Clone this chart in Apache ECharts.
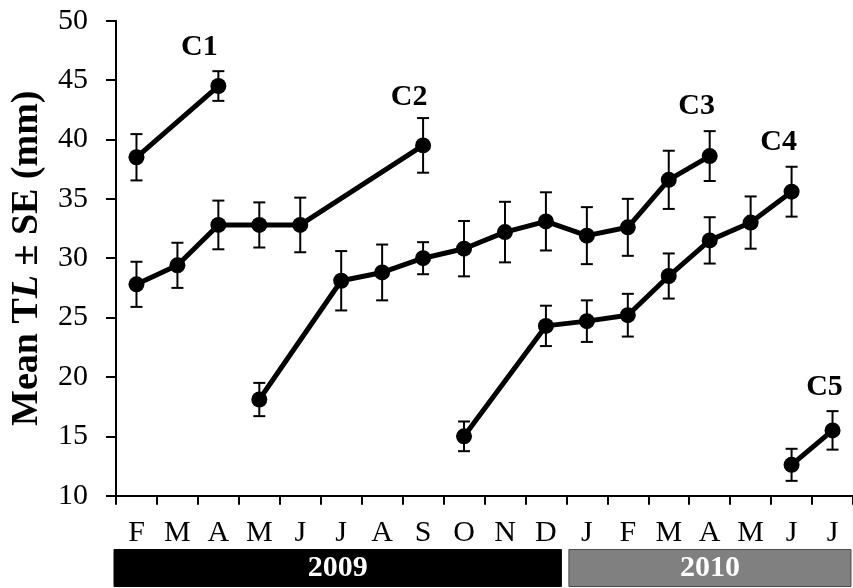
<!DOCTYPE html>
<html>
<head>
<meta charset="utf-8">
<script src="https://cdn.jsdelivr.net/npm/echarts@6/dist/echarts.min.js"></script>
<style>
  html, body { margin: 0; padding: 0; background: #fff; }
  #main { width: 853px; height: 588px; }
</style>
</head>
<body>
<div id="main"></div>
<script>
var categories = ['F','M','A','M','J','J','A','S','O','N','D','J','F','M','A','M','J','J'];
var yTicks = [10, 15, 20, 25, 30, 35, 40, 45, 50];

var c1Mean = [38.5, null, 44.5, null, null, null, null, null, null, null, null, null, null, null, null, null, null, null];
var c1SE   = [1.95, null, 1.25, null, null, null, null, null, null, null, null, null, null, null, null, null, null, null];

var c2Mean = [27.8, 29.4, 32.8, 32.8, 32.8, null, null, 39.5, null, null, null, null, null, null, null, null, null, null];
var c2SE   = [1.9, 1.9, 2.05, 1.9, 2.3, null, null, 2.3, null, null, null, null, null, null, null, null, null, null];

var c3Mean = [null, null, null, 18.1, null, 28.1, 28.8, 30.0, 30.8, 32.2, 33.1, 31.9, 32.6, 36.6, 38.6, null, null, null];
var c3SE   = [null, null, null, 1.4, null, 2.5, 2.35, 1.35, 2.33, 2.55, 2.45, 2.4, 2.4, 2.45, 2.1, null, null, null];

var c4Mean = [null, null, null, null, null, null, null, null, 15.0, null, 24.3, 24.7, 25.2, 28.5, 31.5, 33.0, 35.6, null];
var c4SE   = [null, null, null, null, null, null, null, null, 1.25, null, 1.7, 1.75, 1.8, 1.9, 1.95, 2.2, 2.1, null];

var c5Mean = [null, null, null, null, null, null, null, null, null, null, null, null, null, null, null, null, 12.6, 15.5];
var c5SE   = [null, null, null, null, null, null, null, null, null, null, null, null, null, null, null, null, 1.35, 1.62];

var cohortNames = ['C1', 'C2', 'C3', 'C4', 'C5'];
var years = ['2009', '2010'];
var yearStartIdx = [0, 11];
var yearEndIdx = [10, 17];

var FONT = 'Liberation Serif';
var means = [c1Mean, c2Mean, c3Mean, c4Mean, c5Mean];
var ses = [c1SE, c2SE, c3SE, c4SE, c5SE];
var labelOffsets = [[-19, -39], [-14, -48], [-13, -50], [-13, -49], [-8, -43]];

var series = [];
means.forEach(function (arr, k) {
  var last = -1;
  arr.forEach(function (v, i) { if (v !== null) last = i; });
  var ebData = [];
  arr.forEach(function (v, i) { if (v !== null) ebData.push([i, v, ses[k][i]]); });
  series.push({
    type: 'custom',
    name: cohortNames[k] + ' SE',
    data: ebData,
    encode: { x: 0, y: 1 },
    z: 2,
    renderItem: function (params, api) {
      var x = api.value(0), m = api.value(1), s = api.value(2);
      var top = api.coord([x, m + s]);
      var bot = api.coord([x, m - s]);
      var hw = 6;
      var st = { stroke: '#000', lineWidth: 2 };
      return {
        type: 'group',
        children: [
          { type: 'line', shape: { x1: top[0], y1: top[1], x2: bot[0], y2: bot[1] }, style: st },
          { type: 'line', shape: { x1: top[0] - hw, y1: top[1], x2: top[0] + hw, y2: top[1] }, style: st },
          { type: 'line', shape: { x1: bot[0] - hw, y1: bot[1], x2: bot[0] + hw, y2: bot[1] }, style: st }
        ]
      };
    }
  });
  series.push({
    type: 'line',
    name: cohortNames[k],
    data: arr,
    connectNulls: true,
    symbol: 'circle',
    symbolSize: 16,
    z: 3,
    lineStyle: { color: '#000', width: 5 },
    itemStyle: { color: '#000' },
    label: {
      show: true,
      position: 'inside',
      offset: labelOffsets[k],
      fontFamily: FONT,
      fontSize: 30,
      fontWeight: 'bold',
      color: '#000',
      formatter: function (p) { return p.dataIndex === last ? cohortNames[k] : ''; }
    }
  });
});

var chart = echarts.init(document.getElementById('main'), null, { renderer: 'canvas' });
chart.setOption({
  animation: false,
  backgroundColor: '#fff',
  grid: { left: 116, right: -7, top: 20.7, bottom: 92.3, containLabel: false },
  xAxis: {
    type: 'category',
    data: categories,
    boundaryGap: true,
    axisLine: { show: true, lineStyle: { color: '#000', width: 2 } },
    axisTick: { show: true, length: 9, lineStyle: { color: '#000', width: 2 } },
    axisLabel: { fontFamily: FONT, fontSize: 30, color: '#000', margin: 22, interval: 0 },
    splitLine: { show: false }
  },
  yAxis: {
    type: 'value',
    min: yTicks[0],
    max: yTicks[yTicks.length - 1],
    interval: yTicks[1] - yTicks[0],
    name: '{a|Mean T}{b|L}{a| \u00b1 SE (mm)}',
    nameLocation: 'middle',
    nameGap: 70,
    nameRotate: 90,
    nameTextStyle: {
      fontFamily: FONT, fontSize: 38, fontWeight: 'bold', color: '#000',
      rich: {
        a: { fontFamily: FONT, fontSize: 38, fontWeight: 'bold', color: '#000' },
        b: { fontFamily: FONT, fontSize: 38, fontWeight: 'bold', fontStyle: 'italic', color: '#000' }
      }
    },
    axisLine: { show: true, lineStyle: { color: '#000', width: 2 } },
    axisTick: { show: true, length: 10, lineStyle: { color: '#000', width: 2 } },
    axisLabel: { fontFamily: FONT, fontSize: 30, color: '#000', margin: 28 },
    splitLine: { show: false }
  },
  series: series
});

// Year bars below the month axis
var p0 = chart.convertToPixel({ xAxisIndex: 0 }, 0);
var p1 = chart.convertToPixel({ xAxisIndex: 0 }, 1);
var band = p1 - p0;
var barTop = 549.5, barH = 37;
var fills = ['#000', '#808080'];
var strokes = ['#000', '#4d4d4d'];
var padL = [-2, 2.5], padR = [-5, -2];
var gfx = [];
years.forEach(function (y, i) {
  var xs = chart.convertToPixel({ xAxisIndex: 0 }, yearStartIdx[i]) - band / 2 + padL[i];
  var xe = chart.convertToPixel({ xAxisIndex: 0 }, yearEndIdx[i]) + band / 2 + padR[i];
  gfx.push({
    type: 'rect',
    shape: { x: xs, y: barTop, width: xe - xs, height: barH },
    style: { fill: fills[i], stroke: strokes[i], lineWidth: 1 }
  });
  gfx.push({
    type: 'text',
    x: (xs + xe) / 2,
    y: barTop + barH / 2,
    style: {
      text: y, fill: '#fff', fontFamily: FONT, fontSize: 30, fontWeight: 'bold',
      align: 'center', verticalAlign: 'middle'
    }
  });
});
chart.setOption({ graphic: gfx });
</script>
</body>
</html>
